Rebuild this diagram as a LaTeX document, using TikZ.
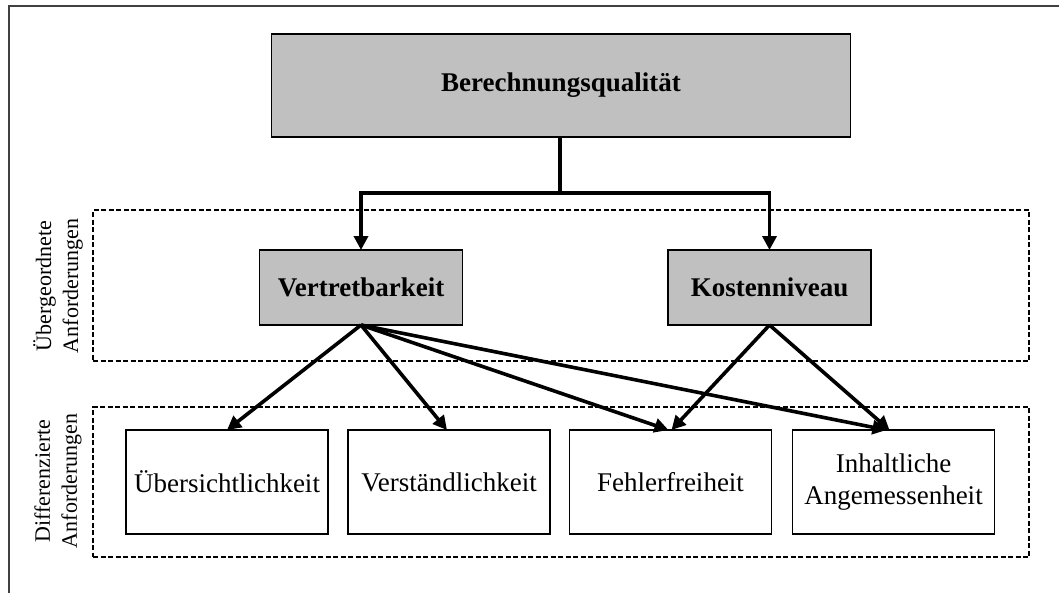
\documentclass[tikz,border=0pt]{standalone}
\usepackage{fontspec}
\setmainfont{Liberation Serif}
\usetikzlibrary{arrows.meta}
\definecolor{boxgray}{HTML}{C0C0C0}
\definecolor{framegray}{HTML}{404040}
\begin{document}
\begin{tikzpicture}[x=1pt,y=-1pt,
  mainbox/.style={draw=black, line width=1.4pt, fill=boxgray, inner sep=0pt, outer sep=0pt,
    font=\fontsize{27}{32}\selectfont\bfseries, align=center},
  leafbox/.style={draw=black, line width=1.4pt, fill=white, inner sep=0pt, outer sep=0pt,
    minimum width=202pt, minimum height=104pt,
    font=\fontsize{27}{32}\selectfont, align=center},
  groupbox/.style={draw=black, line width=1.3pt, dash pattern=on 5pt off 2.5pt,
    inner sep=0pt, outer sep=0pt, minimum width=936pt},
  sidelabel/.style={rotate=90, align=center, inner sep=0pt,
    font=\fontsize{22}{27}\selectfont},
  link/.style={draw=black, line width=3.6pt},
  arrowlink/.style={link, -{Triangle[length=14pt,width=14pt]}}
]
\useasboundingbox (0,0) rectangle (1059,592);
\clip (0,0) rectangle (1059,592);

% outer frame (runs past the page on the right and bottom)
\draw[framegray, line width=1.6pt] (9,600) -- (9,6) -- (1070,6);

% dashed groups
\node[groupbox, minimum height=151pt] (upper) at (561,285.5) {};
\node[groupbox, minimum height=150pt] (lower) at (561,482) {};

% group labels
\node[sidelabel] (lupper) at (58,286) {Übergeordnete\\Anforderungen};
\node[sidelabel] (llower) at (58,481) {Differenzierte\\Anforderungen};

% top goal
\node[mainbox, minimum width=579pt, minimum height=103pt] (quality) at (561,85.5) {Berechnungsqualität};

% higher-level requirements
\node[mainbox, minimum width=203pt, minimum height=75pt] (vert) at (361,287.5) {Vertretbarkeit};
\node[mainbox, minimum width=203pt, minimum height=75pt] (kost) at (769.5,287.5) {Kostenniveau};

% differentiated requirements
\node[leafbox] (ueber) at (227,482) {Übersichtlichkeit};
\node[leafbox] (verst) at (449,482) {Verständlichkeit};
\node[leafbox] (fehl) at (670.5,482) {Fehlerfreiheit};
\node[leafbox] (inh) at (893.5,482) {Inhaltliche\\Angemessenheit};

% tree from the goal
\coordinate (split) at (560,193);
\draw[link] (quality.south -| split) -- (split);
\draw[arrowlink] (split) -| (vert.north);
\draw[arrowlink] (split) -| (kost.north);

% requirement links
\draw[arrowlink] (vert.south) -- (ueber.north);
\draw[arrowlink] (vert.south) -- ([xshift=-2pt]verst.north);
\draw[arrowlink] (vert.south) -- ([xshift=-2pt]fehl.north);
\draw[arrowlink] (vert.south) -- ([xshift=-7pt]inh.north);
\draw[arrowlink] (kost.south) -- ([xshift=1pt]fehl.north);
\draw[arrowlink] (kost.south) -- ([xshift=-4pt]inh.north);
\end{tikzpicture}
\end{document}
